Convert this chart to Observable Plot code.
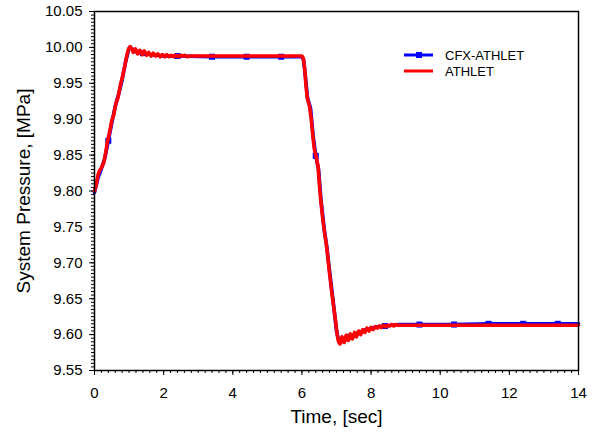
<!DOCTYPE html>
<html>
<head>
<meta charset="utf-8">
<script src="https://cdn.jsdelivr.net/npm/d3@7"></script>
<script src="https://cdn.jsdelivr.net/npm/@observablehq/plot@0.6"></script>
<style>
  body { margin: 0; background: #fff; }
  #wrap { position: relative; width: 595px; height: 439px; font-family: "Liberation Sans", Arial, sans-serif; }
  #legend { position: absolute; left: 0; top: 0; pointer-events: none; }
</style>
</head>
<body>
<div id="wrap"></div>
<script>
// ATHLET (red) time [s] and system pressure [MPa]
const athletTime = [
  0.00, 0.05, 0.10, 0.15, 0.20, 0.27, 0.32, 0.37, 0.42, 0.50, 0.55, 0.62, 0.68, 0.75, 0.80, 0.86, 0.92, 0.97,
  1.03, 1.08, 1.12, 1.18, 1.25, 1.31, 1.38, 1.44, 1.51, 1.57, 1.64, 1.70, 1.77, 1.83, 1.90, 1.96, 2.03, 2.09,
  2.16, 2.22, 2.29, 2.35, 2.42, 2.48, 2.55, 2.61, 2.68, 2.74, 3.00, 4.00, 5.00, 6.00,
  6.04, 6.08, 6.12, 6.16, 6.22, 6.27, 6.32, 6.36, 6.42, 6.47, 6.50, 6.54, 6.60, 6.66, 6.70, 6.74, 6.80, 6.86,
  6.92, 6.97, 7.02, 7.06,
  7.10, 7.16, 7.22, 7.28, 7.34, 7.40, 7.46, 7.52, 7.58, 7.64, 7.70, 7.76, 7.82, 7.88, 7.94, 8.00, 8.06, 8.12,
  8.18, 8.24, 8.30, 8.36, 8.42, 8.48, 8.54, 8.60, 8.66, 8.72, 8.78, 9.00, 10.00, 11.00, 12.00, 13.00, 14.00
];
const athletValue = [
  9.800, 9.808, 9.822, 9.829, 9.832, 9.840, 9.852, 9.868, 9.878, 9.898, 9.905, 9.922, 9.930, 9.948, 9.957, 9.970, 9.985, 9.996,
  10.001, 9.998, 9.993, 9.998, 9.991, 9.996, 9.990, 9.995, 9.989, 9.993, 9.988, 9.992, 9.988, 9.991, 9.987, 9.990, 9.987, 9.990,
  9.987, 9.989, 9.987, 9.989, 9.987, 9.989, 9.988, 9.989, 9.987, 9.988, 9.988, 9.988, 9.988, 9.988,
  9.985, 9.970, 9.945, 9.928, 9.918, 9.900, 9.875, 9.858, 9.846, 9.833, 9.812, 9.790, 9.762, 9.740, 9.728, 9.712, 9.685, 9.660,
  9.638, 9.620, 9.600, 9.590,
  9.587, 9.597, 9.589, 9.599, 9.592, 9.601, 9.594, 9.603, 9.597, 9.605, 9.600, 9.607, 9.603, 9.609, 9.605, 9.610, 9.607, 9.611,
  9.609, 9.612, 9.610, 9.613, 9.611, 9.613, 9.612, 9.614, 9.612, 9.614, 9.613, 9.613, 9.613, 9.613, 9.613, 9.613, 9.613
];

// CFX-ATHLET (blue) time [s] and system pressure [MPa]
const cfxTime = [
  0.00, 0.10, 0.20, 0.30, 0.40, 0.50, 0.60, 0.70, 0.80, 0.90, 1.00, 1.05, 1.15, 1.25, 1.40, 1.60, 1.80, 2.00,
  2.40, 3.40, 4.40, 5.40, 6.00, 6.05, 6.10, 6.16, 6.25, 6.32, 6.40, 6.48, 6.55, 6.65, 6.72, 6.80, 6.90, 7.00,
  7.07, 7.20, 7.40, 7.60, 7.80, 8.00, 8.20, 8.40, 8.80, 9.40, 10.40, 11.40, 12.40, 13.40, 14.00
];
const cfxValue = [
  9.798, 9.818, 9.831, 9.846, 9.870, 9.895, 9.918, 9.935, 9.955, 9.980, 9.999, 10.000, 9.995, 9.993, 9.992, 9.990, 9.989, 9.988,
  9.988, 9.987, 9.987, 9.987, 9.987, 9.982, 9.960, 9.930, 9.915, 9.878, 9.849, 9.830, 9.788, 9.745, 9.722, 9.688, 9.648, 9.605,
  9.590, 9.591, 9.597, 9.602, 9.606, 9.609, 9.611, 9.612, 9.614, 9.614, 9.614, 9.615, 9.615, 9.615, 9.615
];

// CFX-ATHLET square markers
const markerTime = [0.4, 1.4, 2.4, 3.4, 4.4, 5.4, 6.4, 7.4, 8.4, 9.4, 10.4, 11.4, 12.4, 13.4];
const markerValue = [9.870, 9.992, 9.988, 9.987, 9.987, 9.987, 9.849, 9.597, 9.612, 9.614, 9.614, 9.615, 9.615, 9.615];

// Axis ticks
const xTicks = [0, 2, 4, 6, 8, 10, 12, 14];
const yTicks = [9.55, 9.60, 9.65, 9.70, 9.75, 9.80, 9.85, 9.90, 9.95, 10.00, 10.05];
const xMinorTicks = d3.range(0, 70 + 1).map(i => i * 0.2);
const yMinorTicks = d3.range(0, 100 + 1).map(i => 9.55 + i * 0.005);

const seriesNames = ["CFX-ATHLET", "ATHLET"];
const seriesColors = ["#0000ff", "#ff0000"];

const athletData = athletTime.map((t, i) => ({t, v: athletValue[i]}));
const cfxData = cfxTime.map((t, i) => ({t, v: cfxValue[i]}));
const markerData = markerTime.map((t, i) => ({t, v: markerValue[i]}));

const font = "Liberation Sans, Arial, sans-serif";

const chart = Plot.plot({
  width: 595,
  height: 439,
  marginLeft: 94,
  marginRight: 17,
  marginTop: 11,
  marginBottom: 69,
  style: {fontFamily: font, background: "#fff", color: "#000"},
  x: {domain: [0, 14]},
  y: {domain: [9.55, 10.05]},
  marks: [
    Plot.axisX(xMinorTicks, {tickSize: 3, tickFormat: () => "", label: null}),
    Plot.axisX(xTicks, {tickSize: 5, tickPadding: 12, fontSize: 15, tickFormat: d => String(d), label: null}),
    Plot.axisY(yMinorTicks, {tickSize: 3, tickFormat: () => "", label: null}),
    Plot.axisY(yTicks, {tickSize: 5, tickPadding: 7, fontSize: 15, tickFormat: d => d.toFixed(2), label: null}),
    Plot.line(cfxData, {x: "t", y: "v", stroke: seriesColors[0], strokeWidth: 3.6}),
    Plot.dot(markerData, {x: "t", y: "v", symbol: "square", r: 3.4, fill: seriesColors[0], stroke: "none"}),
    Plot.line(athletData, {x: "t", y: "v", stroke: seriesColors[1], strokeWidth: 3.6}),
    Plot.frame({stroke: "#000", strokeWidth: 1.5}),
    Plot.text(["Time, [sec]"], {text: d => d, frameAnchor: "bottom", dy: 46, textAnchor: "middle", lineAnchor: "middle", fontSize: 19, fill: "#000"}),
    Plot.text(["System Pressure, [MPa]"], {text: d => d, frameAnchor: "left", dx: -71, rotate: -90, textAnchor: "middle", lineAnchor: "middle", fontSize: 19, fill: "#000"})
  ]
});

const wrap = document.getElementById("wrap");
wrap.appendChild(chart);

// Legend overlay (inside the plot area, top right)
const ns = "http://www.w3.org/2000/svg";
const leg = document.createElementNS(ns, "svg");
leg.setAttribute("id", "legend");
leg.setAttribute("width", 595);
leg.setAttribute("height", 439);
seriesNames.forEach((name, i) => {
  const y = 55 + i * 16;
  const line = document.createElementNS(ns, "line");
  line.setAttribute("x1", 404); line.setAttribute("x2", 433);
  line.setAttribute("y1", y); line.setAttribute("y2", y);
  line.setAttribute("stroke", seriesColors[i]);
  line.setAttribute("stroke-width", 3);
  leg.appendChild(line);
  if (i === 0) {
    const sq = document.createElementNS(ns, "rect");
    sq.setAttribute("x", 416); sq.setAttribute("y", y - 3);
    sq.setAttribute("width", 6); sq.setAttribute("height", 6);
    sq.setAttribute("fill", seriesColors[i]);
    leg.appendChild(sq);
  }
  const tx = document.createElementNS(ns, "text");
  tx.setAttribute("x", 445); tx.setAttribute("y", y + 4.5);
  tx.setAttribute("font-size", 13);
  tx.setAttribute("font-family", font);
  tx.textContent = name;
  leg.appendChild(tx);
});
wrap.appendChild(leg);
</script>
</body>
</html>
